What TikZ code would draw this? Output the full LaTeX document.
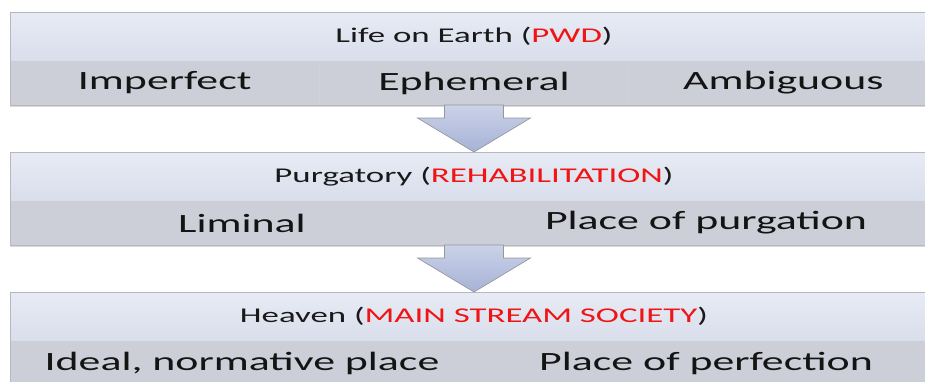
\documentclass[tikz,border=0pt]{standalone}
\usepackage{fontspec}
\setmainfont{Carlito}
\newfontfamily\widefont[FakeStretch=1.66]{Carlito}
\usetikzlibrary{
	positioning,
	calc,
	shadows
}

\definecolor{headtop}{RGB}{231,235,245}
\definecolor{headbot}{RGB}{217,222,235}
\definecolor{cellgray}{RGB}{204,207,215}
\definecolor{edgegray}{RGB}{184,184,188}
\definecolor{arrowtop}{RGB}{203,210,232}
\definecolor{arrowbot}{RGB}{166,178,214}
\definecolor{arrowedge}{RGB}{150,150,155}
\definecolor{keyred}{RGB}{240,20,20}

\newcommand{\blockarrow}[3]{%
	\draw[blockarrow] ($(#1 |- #2.south)+(-29.5,0)$) -- ($(#3.north)+(-29.5,-34)$)
		-- ($(#3.north)+(-56.5,-34)$) -- (#3.north) -- ($(#3.north)+(56.5,-34)$)
		-- ($(#3.north)+(29.5,-34)$) -- ($(#1 |- #2.south)+(29.5,0)$) -- cycle;}

\begin{document}
\begin{tikzpicture}[
		x=0.75pt, y=-0.75pt,
		header/.style={anchor=north west, top color=headtop, bottom color=headbot, minimum width=696pt, minimum height=36.75pt, inner sep=0pt, outer sep=0pt, text=black!90, font=\widefont\fontsize{15.75}{18}\selectfont},
		cell/.style={fill=cellgray, minimum height=33pt, inner sep=0pt, outer sep=0pt, text=black!92, font=\widefont\fontsize{19.8}{22}\selectfont, drop shadow={opacity=0.3, shadow xshift=0pt, shadow yshift=-1.2pt}},
		cellthird/.style={cell, minimum width=232pt},
		cellhalf/.style={cell, minimum width=348pt},
		outline/.style={draw=edgegray, line width=0.6pt},
		sep/.style={draw=cellgray!93!white, line width=0.4pt},
		blockarrow/.style={draw=arrowedge, top color=arrowtop, bottom color=arrowbot, line width=0.5pt}
		]
		
		\useasboundingbox (0,0) rectangle (925,382);
		
		\node[header] (life) at (10,12) {Life on Earth (\textcolor{keyred}{PWD})};
		\node[cellthird, anchor=north west] (imperfect) at (life.south west) {Imperfect};
		\node[cellthird, right=0pt of imperfect] (ephemeral) {Ephemeral};
		\node[cellthird, right=0pt of ephemeral] (ambiguous) {Ambiguous};
		\draw[sep] (imperfect.north east) -- (imperfect.south east);
		\draw[sep] (ephemeral.north east) -- (ephemeral.south east);
		\draw[outline] (life.north west) rectangle (ambiguous.south east);
		
		\node[header] (purgatory) at (10,152) {Purgatory (\textcolor{keyred}{REHABILITATION})};
		\node[cellhalf, anchor=north west] (liminal) at (purgatory.south west) {Liminal};
		\node[cellhalf, right=0pt of liminal] (purgation) {Place of purgation};
		\draw[outline] (purgatory.north west) rectangle (purgation.south east);
		
		\node[header] (heaven) at (10,292) {Heaven (\textcolor{keyred}{MAIN STREAM SOCIETY})};
		\node[cellhalf, anchor=north west] (ideal) at (heaven.south west) {Ideal, normative place};
		\node[cellhalf, right=0pt of ideal] (perfection) {Place of perfection};
		\draw[outline] (heaven.north west) rectangle (perfection.south east);
		
		\blockarrow{life}{ephemeral}{purgatory}
		\blockarrow{purgatory}{liminal}{heaven}
		
	\end{tikzpicture}
\end{document}
